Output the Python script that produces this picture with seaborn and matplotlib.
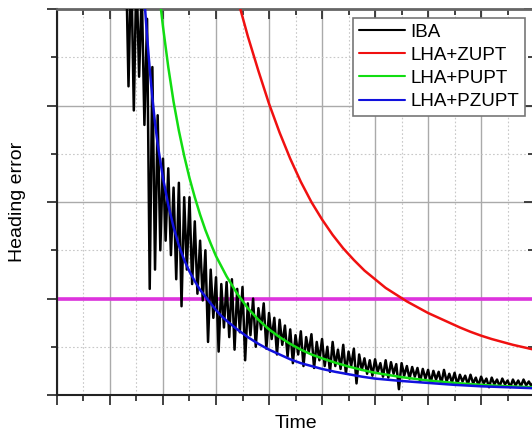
import numpy as np
import pandas as pd
import matplotlib
matplotlib.use('Agg')
import matplotlib.pyplot as plt
from matplotlib.ticker import MultipleLocator, NullFormatter
import seaborn as sns

# IBA: sampled every 0.05 time units from 1.30 to 9.00
iba_start, iba_stop, iba_n = 1.30, 9.00, 155
iba_err = [
    4.6, 3.2, 4.5, 2.95, 4.4, 3.3, 4.2, 2.8, 3.9, 1.1,
    3.4, 1.3, 2.9, 1.5, 2.45, 1.6, 2.35, 1.45, 2.15, 1.2,
    2.2, 0.92, 2.05, 1.3, 2.05, 1.15, 1.8, 1.05, 1.6, 0.98,
    1.5, 0.55, 1.3, 0.8, 1.22, 0.45, 1.15, 0.7, 1.17, 0.6,
    1.2, 0.47, 1.1, 0.65, 1.12, 0.36, 0.95, 0.62, 1.0, 0.5,
    0.9, 0.68, 0.95, 0.48, 0.85, 0.58, 0.8, 0.42, 0.78, 0.52,
    0.72, 0.4, 0.68, 0.33, 0.62, 0.42, 0.66, 0.3, 0.6, 0.44,
    0.63, 0.28, 0.55, 0.36, 0.58, 0.3, 0.5, 0.24, 0.55, 0.3,
    0.47, 0.27, 0.52, 0.22, 0.45, 0.3, 0.48, 0.12, 0.42, 0.26,
    0.38, 0.22, 0.36, 0.2, 0.37, 0.24, 0.33, 0.19, 0.36, 0.18,
    0.34, 0.22, 0.32, 0.06, 0.33, 0.2, 0.3, 0.17, 0.29, 0.19,
    0.28, 0.14, 0.27, 0.17, 0.26, 0.13, 0.25, 0.16, 0.24, 0.12,
    0.26, 0.14, 0.22, 0.13, 0.23, 0.11, 0.21, 0.14, 0.2, 0.11,
    0.21, 0.12, 0.18, 0.1, 0.19, 0.12, 0.17, 0.08, 0.18, 0.11,
    0.16, 0.09, 0.17, 0.11, 0.15, 0.08, 0.16, 0.1, 0.15, 0.09,
    0.16, 0.1, 0.14, 0.09, 0.15,
]

zupt_t = [3.4, 3.6, 3.8, 4.0, 4.2, 4.4, 4.6, 4.8, 5.0, 5.2, 5.4, 5.6,
          5.8, 6.0, 6.2, 6.4, 6.6, 6.8, 7.0, 7.2, 7.4, 7.6, 7.8, 8.0,
          8.2, 8.4, 8.6, 8.8, 9.0]
zupt_err = [4.12, 3.72, 3.36, 3.02, 2.72, 2.45, 2.21, 2.0, 1.82, 1.66,
            1.52, 1.4, 1.29, 1.2, 1.11, 1.04, 0.97, 0.91, 0.85, 0.8,
            0.75, 0.7, 0.655, 0.615, 0.58, 0.55, 0.52, 0.495, 0.47]

pupt_t = [1.9, 2.0, 2.1, 2.2, 2.3, 2.4, 2.5, 2.6, 2.7, 2.8, 2.9, 3.0,
          3.2, 3.4, 3.6, 3.8, 4.0, 4.2, 4.4, 4.6, 4.8, 5.0, 5.25, 5.5,
          5.75, 6.0, 6.5, 7.0, 7.5, 8.0, 8.5, 9.0]
pupt_err = [4.3, 3.82, 3.4, 3.04, 2.74, 2.48, 2.25, 2.05, 1.87, 1.71,
            1.57, 1.44, 1.23, 1.05, 0.9, 0.78, 0.68, 0.6, 0.53, 0.47,
            0.42, 0.38, 0.335, 0.295, 0.26, 0.23, 0.185, 0.15, 0.125,
            0.105, 0.09, 0.08]

pzupt_t = [1.6, 1.65, 1.7, 1.75, 1.8, 1.85, 1.9, 2.0, 2.1, 2.2, 2.3, 2.4,
           2.5, 2.6, 2.7, 2.8, 2.9, 3.0, 3.1, 3.2, 3.4, 3.6, 3.8, 4.0,
           4.2, 4.4, 4.6, 4.8, 5.0, 5.25, 5.5, 5.75, 6.0, 6.5, 7.0, 7.5,
           8.0, 8.5, 9.0]
pzupt_err = [4.5, 4.1, 3.72, 3.38, 3.08, 2.82, 2.6, 2.25, 1.97, 1.74,
             1.55, 1.4, 1.28, 1.18, 1.09, 1.02, 0.95, 0.88, 0.82, 0.77,
             0.68, 0.6, 0.53, 0.47, 0.42, 0.37, 0.33, 0.3, 0.27, 0.24,
             0.215, 0.19, 0.17, 0.145, 0.125, 0.105, 0.09, 0.08, 0.07]

threshold = 1.0

methods = ['IBA', 'LHA+ZUPT', 'LHA+PUPT', 'LHA+PZUPT']
colors = ['#000000', '#f01010', '#11dd11', '#1111dd']

iba_t = np.linspace(iba_start, iba_stop, iba_n)
df = pd.concat([
    pd.DataFrame({'t': iba_t, 'err': iba_err, 'method': 'IBA'}),
    pd.DataFrame({'t': zupt_t, 'err': zupt_err, 'method': 'LHA+ZUPT'}),
    pd.DataFrame({'t': pupt_t, 'err': pupt_err, 'method': 'LHA+PUPT'}),
    pd.DataFrame({'t': pzupt_t, 'err': pzupt_err, 'method': 'LHA+PZUPT'}),
], ignore_index=True)

sns.set_style('white')
plt.rcParams['font.family'] = ['Liberation Sans', 'DejaVu Sans']
plt.rcParams['text.color'] = 'black'
plt.rcParams['axes.labelcolor'] = 'black'

fig = plt.figure(figsize=(5.32, 4.33), dpi=100)
ax = fig.add_axes([0.107, 0.0878, 0.897, 0.891])

ax.axhline(threshold, color='#dd33dd', lw=2.6, zorder=1)
sns.lineplot(data=df, x='t', y='err', hue='method', hue_order=methods,
             palette=dict(zip(methods, colors)), estimator=None, sort=False,
             lw=1.8, ax=ax, zorder=3)

ax.set_xlim(0, 9)
ax.set_ylim(0, 4)
ax.xaxis.set_major_locator(MultipleLocator(1))
ax.xaxis.set_minor_locator(MultipleLocator(0.5))
ax.yaxis.set_major_locator(MultipleLocator(1))
ax.yaxis.set_minor_locator(MultipleLocator(0.5))
ax.xaxis.set_major_formatter(NullFormatter())
ax.yaxis.set_major_formatter(NullFormatter())

ax.grid(which='major', color='#aaaaaa', lw=1.0, ls='-')
ax.grid(which='minor', color='#c8c8c8', lw=0.8, ls=(0, (1.5, 2)))
ax.set_axisbelow(True)

for side in ['left', 'bottom']:
    ax.spines[side].set_color('#222222')
    ax.spines[side].set_linewidth(1.5)
for side in ['top', 'right']:
    ax.spines[side].set_color('#666666')
    ax.spines[side].set_linewidth(2)

ax.tick_params(which='both', bottom=True, left=True, top=True, right=True,
               direction='out', color='#333333', width=1.3)
ax.tick_params(which='major', length=7)
ax.tick_params(which='minor', length=4)
# mirrored ticks on top/right point inward
for t in ax.xaxis.get_major_ticks() + ax.xaxis.get_minor_ticks():
    t.tick2line.set_marker(3)
for t in ax.yaxis.get_major_ticks() + ax.yaxis.get_minor_ticks():
    t.tick2line.set_marker(0)

ax.set_xlabel('Time', fontsize=14, va='top')
ax.set_ylabel('Heading error', fontsize=14)
ax.xaxis.set_label_coords(0.5, -0.053)
ax.yaxis.set_label_coords(-0.064, 0.5)

handles, labels = ax.get_legend_handles_labels()
leg = ax.legend(handles, labels, loc='upper right',
                bbox_to_anchor=(0.981, 0.977), borderaxespad=0,
                fontsize=13.5, handlelength=2.45, handletextpad=0.3,
                labelspacing=0.32, borderpad=0.3, fancybox=False,
                framealpha=1, edgecolor='#777777')
leg.get_frame().set_linewidth(1.2)
for line in leg.get_lines():
    line.set_linewidth(1.5)
for txt in leg.get_texts():
    txt.set_color('black')

fig.savefig('out.png', dpi=100)
